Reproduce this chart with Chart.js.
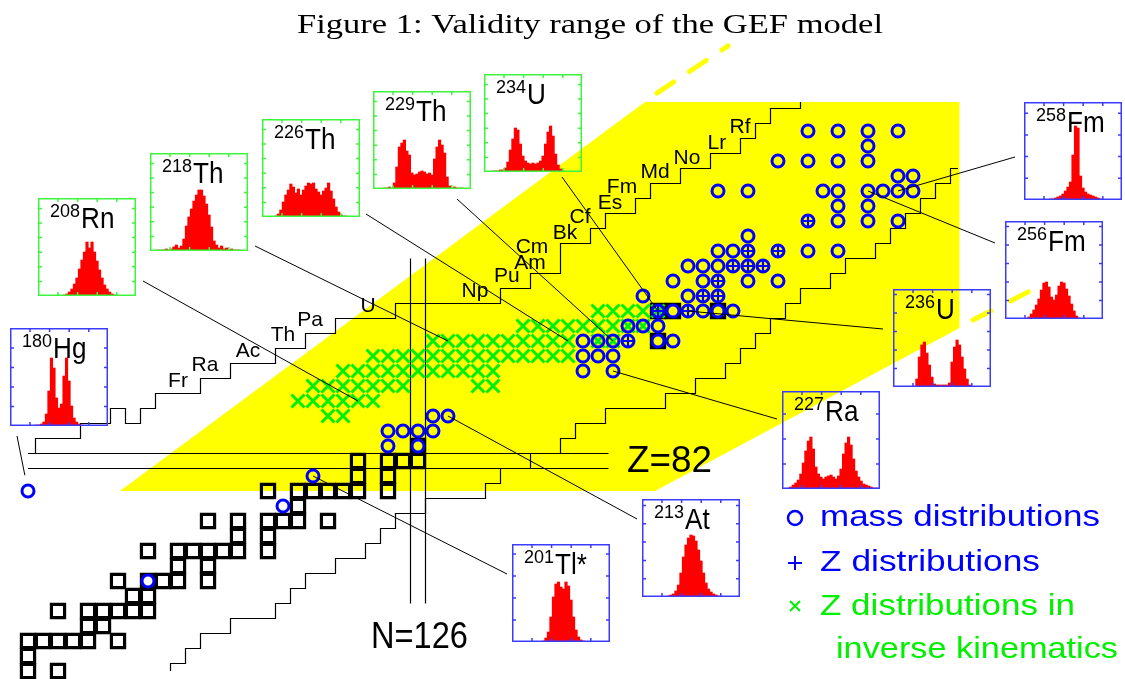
<!DOCTYPE html>
<html lang="en">
<head>
    <meta charset="UTF-8">
    <title>Figure 1: Validity range of the GEF model</title>
    <script src="https://cdn.jsdelivr.net/npm/chart.js"></script>
    <style>
        body { margin: 0; background: #fff; }
        #page { position: relative; width: 1125px; height: 679px; overflow: hidden; }
        #mainChart { position: absolute; left: 0; top: 0; }
        .inset { position: absolute; width: 98px; height: 98px; }
        .inset canvas { position: absolute; left: 0; top: 0; }
    </style>
</head>
<body>
    <div id="page">
        <canvas id="mainChart" width="1125" height="679"></canvas>
    </div>

    <script>
        // ---- nuclide chart data (N = neutrons, Z = protons) ----

        // stable / long-lived nuclei (black squares)
        const stableN = [100,102, 100, 100,101,102,103,104,106, 104,105, 102,104,105,106,107,108, 107,108,
                         106,108,109,110,112, 110,112, 108,110,111,112,113,114,116, 114,116,
                         112,114,116,117,118,120, 118, 116,118,119,120,121,122,124, 122,124,
                         122,124,125,126, 126, 142, 142,143,146];
        const stableZ = [68,68, 69, 70,70,70,70,70,70, 71,71, 72,72,72,72,72,72, 73,73,
                         74,74,74,74,74, 75,75, 76,76,76,76,76,76,76, 77,77,
                         78,78,78,78,78,78, 79, 80,80,80,80,80,80,80, 81,81,
                         82,82,82,82, 83, 90, 92,92,92];

        // measured mass distributions (blue circles)
        const massN = [152,154,156,158, 156, 150,152,154,156, 158,159,
                       146,148,153,154,156,157,158,159, 154,156, 152,154,156,158, 148,
                       146,147,148,150,152,154, 144,145,146,147,148,149, 143,145,146,148,150,
                       141,144,145,146, 142,143,144,145,146,147, 140,141,142,
                       137,138,139,140,142,143, 137,138,139, 137,139,
                       127,128, 124,125,126,127, 124,126, 119, 100, 117, 108];
        const massZ = [104,104,104,104, 103, 102,102,102,102, 101,101,
                       100,100,100,100,100,100,100,100, 99,99, 98,98,98,98, 97,
                       96,96,96,96,96,96, 95,95,95,95,95,95, 94,94,94,94,94,
                       93,93,93,93, 92,92,92,92,92,92, 91,91,91,
                       90,90,90,90,90,90, 89,89,89, 88,88,
                       85,85, 84,84,84,84, 83,83, 81, 80, 79, 74];

        // measured Z distributions (blue plus)
        const zdistN = [152, 148,150, 147,148,149, 146, 145,146, 142,144, 140];
        const zdistZ = [98, 96,96, 95,95,95, 94, 93,93, 92,92, 90];

        // Z distributions in inverse kinematics (green crosses)
        const inverseN = [138,139,140,141,142,
                          133,134,135,136,137,138,139,140,141,
                          127,128,129,130,131,132,133,134,135,136,138,139,
                          123,124,125,126,127,128,129,130,131,132,133,134,135,136,
                          121,122,123,124,125,126,127,128,129,130,131,
                          119,120,121,122,123,124,125,130,131,
                          118,119,120,121,122,123,
                          120,121];
        const inverseZ = [92,92,92,92,92,
                          91,91,91,91,91,91,91,91,91,
                          90,90,90,90,90,90,90,90,90,90,90,90,
                          89,89,89,89,89,89,89,89,89,89,89,89,89,89,
                          88,88,88,88,88,88,88,88,88,88,88,
                          87,87,87,87,87,87,87,87,87,
                          86,86,86,86,86,86,
                          85,85];

        // validity range of the model (yellow area) and its dashed extensions
        const rangeN = [106.13, 141.13, 162.1, 162.1, 141.8];
        const rangeZ = [80, 105.93, 105.93, 90.87, 80];
        const rangeTopExtN = [141.93, 146.67];
        const rangeTopExtZ = [106.53, 109.67];
        const rangeSideExtN = [163.0, 166.93];
        const rangeSideExtZ = [91.4, 93.4];

        // limits of known nuclei (staircases on cell edges)
        const upperN = [100.5,100.5,103.5,105.5,106.5,107.5,108.5,111.5,113.5,116.5,118.5,120.5,124.5,
                        131.5,133.5,135.5,137.5,138.5,140.5,141.5,143.5,145.5,147.5,148.5,149.5,151.5];
        const upperZ = [82.5,83.5,84.5,85.5,84.5,85.5,86.5,87.5,88.5,89.5,90.5,91.5,92.5,
                        93.5,94.5,96.5,97.5,98.5,99.5,100.5,101.5,102.5,103.5,104.5,105.5,105.93];
        const lowerN = [109.5,109.5,110.5,111.5,113.5,116.5,117.5,118.5,120.5,122.5,123.5,124.5,126.5,
                        130.5,131.5,133.5,135.5,136.5,138.5,142.5,144.5,146.5,147.5,148.5,149.5,
                        150.5,151.5,153.5,154.5,156.5,157.5,158.5,159.5,160.5,161.5,162];
        const lowerZ = [68.0,68.5,69.5,70.5,71.5,72.5,73.5,74.5,75.5,76.5,77.5,78.5,79.5,
                        80.5,81.5,82.5,83.5,84.5,85.5,86.5,87.5,88.5,89.5,90.5,91.5,
                        92.5,93.5,94.5,95.5,96.5,97.5,98.5,99.5,100.5,101.5,101.5];

        // magic numbers Z=82 and N=126 (double lines on the cell edges)
        const magicZEdges = [81.5, 82.5];
        const magicZSpanN = [100, 138.7];
        const magicNEdges = [125.5, 126.5];
        const magicNSpanZ = [72.5, 95.5];

        // element names along the proton-rich limit
        const elementNames  = ['Fr','Ra','Ac','Th','Pa','U','Np','Pu','Am','Cm','Bk','Cf','Es','Fm','Md','No','Lr','Rf'];
        const elementLabelN = [110, 111.8, 114.67, 117, 118.8, 122.67, 129.8, 131.93, 133.47, 133.6, 135.8, 136.8, 138.8, 139.6, 141.8, 143.93, 145.93, 147.47];
        const elementLabelZ = [87.33, 88.4, 89.33, 90.4, 91.4, 92.33, 93.33, 94.33, 95.2, 96.27, 97.2, 98.27, 99.2, 100.27, 101.27, 102.2, 103.2, 104.27];

        // ---- fission-fragment distributions shown in the insets ----
        const insetMass   = [180, 208, 218, 226, 229, 234, 258, 256, 236, 227, 213, 201];
        const insetSymbol = ['Hg','Rn','Th','Th','Th','U','Fm','Fm','U','Ra','At','Tl*'];
        const insetN      = [100, 122, 128, 136, 139, 142, 158, 156, 144, 139, 128, 119];
        const insetZ      = [80, 86, 90, 90, 90, 92, 100, 100, 92, 88, 85, 81];

        const yieldHg180 = [0,0,0,0,0,0,0,0,0,0,1,1,2,4,12,35,68,58,28,18,22,50,68,45,20,8,4,2,1,0,0,0,0,0,0,0,0,0,0];
        const yieldRn208 = [0,0,0,0,0,0,0,0,0,0,1,2,4,7,12,18,27,36,44,54,48,54,44,35,26,18,11,7,4,2,1,0,0,0,0,0,0,0,0];
        const yieldTh218 = [0,0,0,1,1,1,2,1,2,4,6,3,5,12,25,34,42,50,56,61,61,55,47,36,24,10,6,3,5,2,3,1,2,1,1,1,0,0,0];
        const yieldTh226 = [0,0,0,0,0,1,3,7,15,22,27,33,30,24,28,22,27,31,34,33,34,28,25,22,26,29,34,26,18,10,5,2,1,1,0,0,0,0,0];
        const yieldTh229 = [0,0,0,0,1,1,2,1,6,22,42,46,49,38,34,16,14,15,17,18,17,15,16,14,30,42,49,44,36,12,3,1,2,1,1,1,0,0,0];
        const yieldU234  = [0,0,0,1,1,1,2,2,4,10,22,33,44,42,28,16,11,9,8,9,8,9,11,16,28,40,46,36,18,7,3,1,0,0,0,0,0,0,0];
        const yieldFm258 = [0,0,0,0,0,0,0,0,0,0,1,1,2,3,4,6,9,13,18,45,74,72,24,12,8,6,5,4,3,2,1,0,0,0,0,0,0,0,0];
        const yieldFm256 = [0,0,0,0,0,0,0,0,0,2,5,9,14,20,29,36,37,32,22,19,24,33,37,36,30,23,15,8,3,1,0,0,0,0,0,0,0,0,0];
        const yieldU236  = [0,0,0,0,0,0,0,0,0,8,30,42,45,34,22,10,3,2,2,2,2,2,4,25,40,47,42,30,18,8,2,0,0,0,0,0,0,0,0];
        const yieldRa227 = [0,0,1,2,4,6,9,15,26,38,48,52,40,22,15,12,10,12,13,14,12,10,13,20,35,46,52,44,30,18,12,8,5,4,3,2,1,1,0];
        const yieldAt213 = [0,0,0,0,0,0,0,0,0,0,1,2,3,6,12,24,40,52,59,62,61,56,47,36,24,14,8,5,3,2,1,0,0,0,0,0,0,0,0];
        const yieldTl201 = [0,0,0,0,0,0,0,0,0,0,0,0,1,4,10,25,45,58,60,55,53,60,56,42,25,12,5,2,1,0,0,0,0,0,0,0,0,0,0];
        const insetYields = [yieldHg180, yieldRn208, yieldTh218, yieldTh226, yieldTh229, yieldU234,
                             yieldFm258, yieldFm256, yieldU236, yieldRa227, yieldAt213, yieldTl201];

        // ---- layout (pixels) ----
        const GREEN_FRAME = '#3cf53c';
        const BLUE_FRAME = '#3c3cff';
        const insetLayout = [
            { left: 10,   top: 328, frame: BLUE_FRAME,  yTick: 19.5, anchor: [7, 108],  gap: 16 },
            { left: 38,   top: 198, frame: GREEN_FRAME, yTick: 14.6, anchor: [105, 83] },
            { left: 150,  top: 153, frame: GREEN_FRAME, yTick: 14.6, anchor: [105, 93] },
            { left: 262,  top: 119, frame: GREEN_FRAME, yTick: 14.6, anchor: [104, 95] },
            { left: 373,  top: 91,  frame: GREEN_FRAME, yTick: 14.6, anchor: [84, 108] },
            { left: 484,  top: 74,  frame: GREEN_FRAME, yTick: 14.6, anchor: [78, 103] },
            { left: 1024, top: 102, frame: BLUE_FRAME,  yTick: 21.7, anchor: [-9, 55] },
            { left: 1005, top: 221, frame: BLUE_FRAME,  yTick: 18.5, anchor: [-10, 22] },
            { left: 893,  top: 289, frame: BLUE_FRAME,  yTick: 18.5, anchor: [-10, 40] },
            { left: 782,  top: 391, frame: BLUE_FRAME,  yTick: 25,   anchor: [-5, 28] },
            { left: 642,  top: 499, frame: BLUE_FRAME,  yTick: 18.3, anchor: [-5, 20] },
            { left: 512,  top: 544, frame: BLUE_FRAME,  yTick: 22,   anchor: [-5, 30] }
        ];

        const SANS = '"Liberation Sans", Arial, sans-serif';
        const BLUE = '#0000ff';
        const GREEN = '#00f000';

        // view window: 15 px per nucleon, N=126 column centred at x=418, Z=82 row at y=461
        const N_MIN = 126 - 418 / 15, N_MAX = 126 + 707 / 15;
        const Z_MIN = 82 - 218 / 15,  Z_MAX = 82 + 461 / 15;

        function pairs(xs, ys) {
            return xs.map((v, i) => ({ x: v, y: ys[i] }));
        }

        function fitText(ctx, text, left, midY, width, font) {
            ctx.save();
            ctx.font = font;
            ctx.textAlign = 'left';
            ctx.textBaseline = 'middle';
            const w = ctx.measureText(text).width;
            ctx.translate(left, midY);
            ctx.scale(width / w, 1);
            ctx.fillText(text, 0, 0);
            ctx.restore();
        }

        // leader lines, labels, legend and title on the main chart
        const chartDecor = {
            id: 'chartDecor',
            afterDatasetsDraw(chart) {
                const { ctx } = chart;
                const xs = chart.scales.x, ys = chart.scales.y;
                ctx.save();

                // leader lines from the insets to their nucleus
                ctx.strokeStyle = '#000';
                ctx.lineWidth = 1;
                insetLayout.forEach((box, i) => {
                    const ax = box.left + box.anchor[0];
                    const ay = box.top + box.anchor[1];
                    let tx = xs.getPixelForValue(insetN[i]);
                    let ty = ys.getPixelForValue(insetZ[i]);
                    if (box.gap) {
                        const d = Math.hypot(tx - ax, ty - ay);
                        tx = ax + (tx - ax) * (d - box.gap) / d;
                        ty = ay + (ty - ay) * (d - box.gap) / d;
                    }
                    ctx.beginPath();
                    ctx.moveTo(ax, ay);
                    ctx.lineTo(tx, ty);
                    ctx.stroke();
                });

                // element names
                ctx.fillStyle = '#000';
                ctx.font = '21px ' + SANS;
                ctx.textAlign = 'center';
                ctx.textBaseline = 'middle';
                elementNames.forEach((name, i) => {
                    ctx.fillText(name, xs.getPixelForValue(elementLabelN[i]), ys.getPixelForValue(elementLabelZ[i]));
                });

                // magic number labels
                fitText(ctx, 'Z=82', xs.getPixelForValue(139.93), ys.getPixelForValue(82) + 1, 85, '37px ' + SANS);
                fitText(ctx, 'N=126', xs.getPixelForValue(126) - 47, ys.getPixelForValue(70.2), 97, '37px ' + SANS);
                ctx.restore();
            },
            afterDraw(chart) {
                const { ctx } = chart;
                ctx.save();
                ctx.fillStyle = '#000';
                fitText(ctx, 'Figure 1: Validity range of the GEF model', 297, 26, 586, '28px "Liberation Serif", "Times New Roman", serif');

                // legend
                const mx = 795;
                ctx.lineCap = 'butt';
                ctx.strokeStyle = BLUE;
                ctx.lineWidth = 2.5;
                ctx.beginPath();
                ctx.arc(mx, 518, 7, 0, Math.PI * 2);
                ctx.stroke();
                ctx.lineWidth = 2;
                ctx.beginPath();
                ctx.moveTo(mx - 7, 563); ctx.lineTo(mx + 7, 563);
                ctx.moveTo(mx, 556); ctx.lineTo(mx, 570);
                ctx.stroke();
                ctx.strokeStyle = GREEN;
                ctx.lineWidth = 2;
                ctx.beginPath();
                ctx.moveTo(mx - 5, 601); ctx.lineTo(mx + 5, 611);
                ctx.moveTo(mx + 5, 601); ctx.lineTo(mx - 5, 611);
                ctx.stroke();

                ctx.fillStyle = BLUE;
                fitText(ctx, 'mass distributions', 820, 518, 280, '30px ' + SANS);
                fitText(ctx, 'Z distributions', 820, 563, 220, '30px ' + SANS);
                ctx.fillStyle = GREEN;
                fitText(ctx, 'Z distributions in', 820, 607, 255, '30px ' + SANS);
                fitText(ctx, 'inverse kinematics', 836, 650, 282, '30px ' + SANS);
                ctx.restore();
            }
        };

        function lineSet(xs, ys, extra) {
            return Object.assign({
                type: 'line',
                data: pairs(xs, ys),
                borderColor: '#000',
                borderWidth: 1.2,
                pointRadius: 0,
                pointHoverRadius: 0,
                fill: false,
                tension: 0
            }, extra);
        }

        function pointSet(xs, ys, extra) {
            return Object.assign({
                type: 'scatter',
                data: pairs(xs, ys),
                showLine: false,
                pointBackgroundColor: 'rgba(0,0,0,0)'
            }, extra);
        }

        const mainChart = new Chart(document.getElementById('mainChart'), {
            type: 'scatter',
            data: {
                datasets: [
                    lineSet(rangeN, rangeZ, { fill: 'shape', backgroundColor: '#ffff00', borderWidth: 0, order: 100 }),
                    lineSet(rangeTopExtN, rangeTopExtZ, { borderColor: '#ffff00', borderWidth: 5, borderDash: [20, 19], borderCapStyle: 'round', order: 90 }),
                    lineSet(rangeSideExtN, rangeSideExtZ, { borderColor: '#ffff00', borderWidth: 5, borderDash: [20, 22], borderCapStyle: 'round', order: 90 }),
                    lineSet(upperN, upperZ, { stepped: 'before', order: 80 }),
                    lineSet(lowerN, lowerZ, { stepped: 'before', order: 80 }),
                    lineSet(magicZSpanN, [magicZEdges[0], magicZEdges[0]], { order: 80 }),
                    lineSet(magicZSpanN, [magicZEdges[1], magicZEdges[1]], { order: 80 }),
                    lineSet([magicNEdges[0], magicNEdges[0]], magicNSpanZ, { order: 80 }),
                    lineSet([magicNEdges[1], magicNEdges[1]], magicNSpanZ, { order: 80 }),
                    pointSet(stableN, stableZ, { pointStyle: 'rect', pointRadius: 9.3, pointBorderColor: '#000', pointBorderWidth: 3.2, order: 40 }),
                    pointSet(inverseN, inverseZ, { pointStyle: 'crossRot', pointRadius: 9.2, pointBorderColor: GREEN, pointBorderWidth: 3, order: 30 }),
                    pointSet(massN, massZ, { pointStyle: 'circle', pointRadius: 6, pointBorderColor: BLUE, pointBorderWidth: 3, order: 20 }),
                    pointSet(zdistN, zdistZ, { pointStyle: 'cross', pointRadius: 6.5, pointBorderColor: BLUE, pointBorderWidth: 2.2, order: 10 })
                ]
            },
            options: {
                responsive: false,
                animation: false,
                events: [],
                layout: { padding: 0, autoPadding: false },
                plugins: {
                    legend: { display: false },
                    tooltip: { enabled: false }
                },
                scales: {
                    x: { type: 'linear', min: N_MIN, max: N_MAX, display: false },
                    y: { type: 'linear', min: Z_MIN, max: Z_MAX, display: false }
                }
            },
            plugins: [chartDecor]
        });

        // frame, inward ticks and nucleus name of an inset
        const insetFrame = {
            id: 'insetFrame',
            afterDraw(chart, args, opts) {
                const ctx = chart.ctx;
                const { left, top, right, bottom } = chart.chartArea;
                ctx.save();
                ctx.strokeStyle = opts.color;
                ctx.lineWidth = 1.5;
                ctx.strokeRect(left + 0.75, top + 0.75, right - left - 1.5, bottom - top - 1.5);
                ctx.beginPath();
                for (let tx = left + 20; tx < right - 4; tx += 19.6) {
                    ctx.moveTo(tx, top); ctx.lineTo(tx, top + 4);
                    ctx.moveTo(tx, bottom); ctx.lineTo(tx, bottom - 4);
                }
                for (let ty = bottom - opts.yTick; ty > top + 4; ty -= opts.yTick) {
                    ctx.moveTo(left, ty); ctx.lineTo(left + 4, ty);
                    ctx.moveTo(right, ty); ctx.lineTo(right - 4, ty);
                }
                ctx.stroke();

                ctx.fillStyle = '#000';
                ctx.textAlign = 'left';
                ctx.textBaseline = 'alphabetic';
                ctx.font = '18px ' + SANS;
                const sup = String(opts.mass);
                ctx.fillText(sup, left + 12, top + 19);
                const w = ctx.measureText(sup).width;
                ctx.font = '29px ' + SANS;
                ctx.translate(left + 13 + w, top + 30);
                ctx.scale(0.9, 1);
                ctx.fillText(opts.symbol, 0, 0);
                ctx.restore();
            }
        };

        const page = document.getElementById('page');
        insetLayout.forEach((box, i) => {
            const holder = document.createElement('div');
            holder.className = 'inset';
            holder.style.left = box.left + 'px';
            holder.style.top = box.top + 'px';
            const canvas = document.createElement('canvas');
            canvas.width = 98;
            canvas.height = 98;
            holder.appendChild(canvas);
            page.appendChild(holder);

            new Chart(canvas, {
                type: 'bar',
                data: {
                    labels: insetYields[i].map((v, k) => k),
                    datasets: [{
                        data: insetYields[i],
                        backgroundColor: '#ff0000',
                        borderWidth: 0,
                        barPercentage: 1,
                        categoryPercentage: 1
                    }]
                },
                options: {
                    responsive: false,
                    animation: false,
                    events: [],
                    layout: { padding: 0, autoPadding: false },
                    plugins: {
                        legend: { display: false },
                        tooltip: { enabled: false },
                        insetFrame: { color: box.frame, yTick: box.yTick, mass: insetMass[i], symbol: insetSymbol[i] }
                    },
                    scales: {
                        x: { display: false },
                        y: { display: false, min: 0, max: 98 }
                    }
                },
                plugins: [insetFrame]
            });
        });
    </script>
</body>
</html>
